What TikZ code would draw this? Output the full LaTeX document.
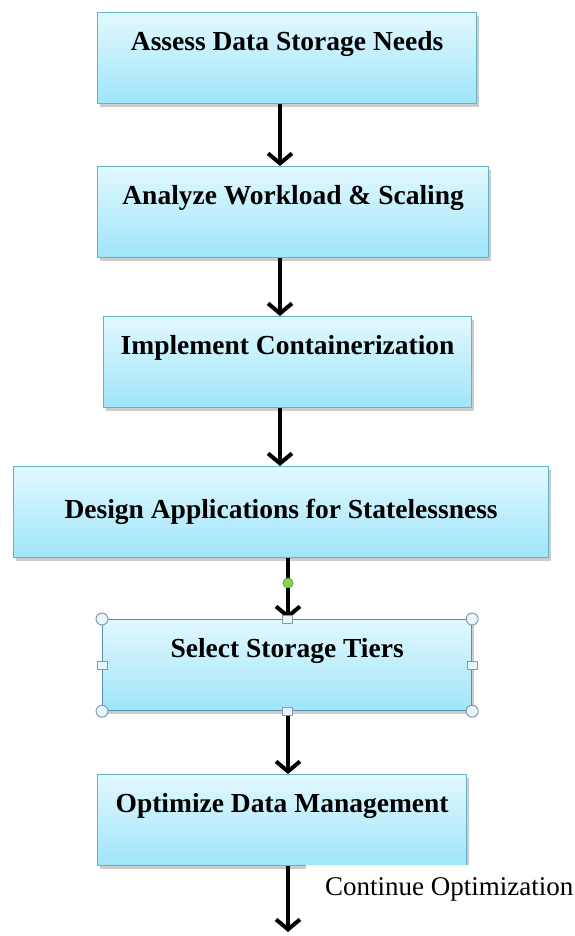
\documentclass[tikz,border=0pt]{standalone}
\usepackage{fontspec}
\setmainfont{Liberation Serif}
\usetikzlibrary{arrows.meta,shadows}
\definecolor{boxtop}{HTML}{E2F8FE}
\definecolor{boxbot}{HTML}{9FE5FA}
\definecolor{boxline}{HTML}{62B4CC}
\definecolor{selline}{HTML}{5A8DB3}
\definecolor{handlefill}{HTML}{E8F5FB}
\definecolor{handleline}{HTML}{7D9CB8}
\definecolor{gripfill}{HTML}{86D84E}
\definecolor{gripline}{HTML}{5E9E3A}
\begin{document}
\begin{tikzpicture}[x=1pt,y=-1pt,line join=round,
	stepbox/.style={rectangle,draw=boxline,line width=1.2pt,top color=boxtop,bottom color=boxbot,
		inner sep=0pt,text height=38pt,text depth=53pt,anchor=north west,
		font=\fontsize{27.5}{30}\selectfont\bfseries,
		drop shadow={shadow xshift=2pt,shadow yshift=-3pt,opacity=.4}},
	flow/.style={line width=4pt,-{Straight Barb[length=10pt,width=24pt]}},
	rhandle/.style={draw=handleline,fill=handlefill,line width=1pt},
	shandle/.style={rectangle,draw=handleline,fill=handlefill,line width=1pt,minimum width=10pt,minimum height=8pt,inner sep=0pt},
	note/.style={fill=white,inner xsep=19pt,inner ysep=0pt,text height=30pt,text depth=10pt,anchor=north west,font=\fontsize{27}{30}\selectfont}]
	\useasboundingbox (0,0) rectangle (574,936);
	\def\xa{280} \def\xb{288} % arrow columns
	% steps
	\node[stepbox,minimum width=379pt] (assess) at (97,12) {Assess Data Storage Needs};
	\node[stepbox,minimum width=391pt] (analyze) at (97,166) {Analyze Workload \& Scaling};
	\node[stepbox,minimum width=368pt] (contain) at (103,316) {Implement Containerization};
	\node[stepbox,minimum width=535pt,text height=52pt,text depth=39pt] (design) at (13,466) {Design Applications for Statelessness};
	\node[stepbox,minimum width=369pt,draw=selline] (tiers) at (102,619) {Select Storage Tiers};
	\node[stepbox,minimum width=369pt] (optim) at (97,774) {Optimize Data Management};
	\node[note] (cont) at (306,865) {Continue Optimization};
	\coordinate (end) at (\xb,932);
	% connectors
	\draw[flow] (assess.south -| \xa,0) -- (analyze.north -| \xa,0);
	\draw[flow] (analyze.south -| \xa,0) -- (contain.north -| \xa,0);
	\draw[flow] (contain.south -| \xa,0) -- (design.north -| \xa,0);
	\draw[flow] (design.south -| \xb,0) -- (tiers.north -| \xb,0);
	\draw[flow] (tiers.south -| \xb,0) -- (optim.north -| \xb,0);
	\draw[flow] (optim.south -| \xb,0) -- (end);
	% selection handles
	\foreach \c in {north west,north east,south west,south east} \draw[rhandle] (tiers.\c) circle (6pt);
	\foreach \c in {north,south,west,east} \node[shandle] at (tiers.\c) {};
	\draw[draw=gripline,fill=gripfill,line width=.8pt] (\xb,583) circle (5pt);
\end{tikzpicture}
\end{document}
